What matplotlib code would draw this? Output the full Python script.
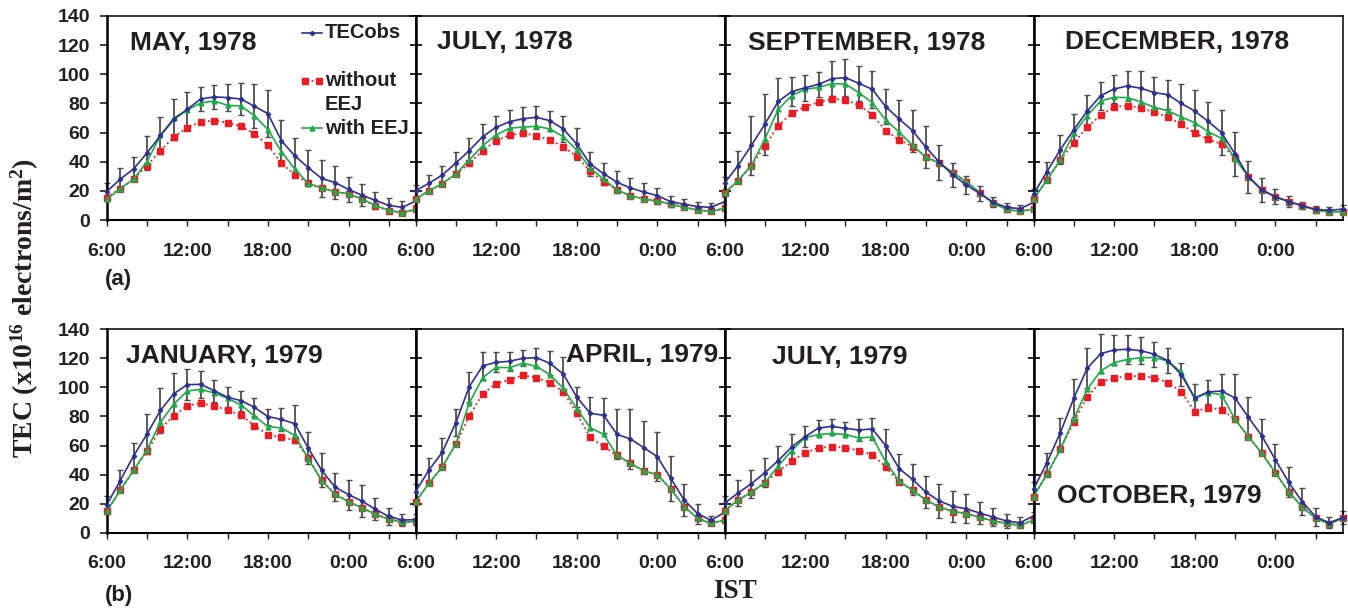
import matplotlib
matplotlib.use('Agg')
import matplotlib.pyplot as plt
from matplotlib.ticker import MultipleLocator, FixedLocator

# hourly points, index 0 = 6:00 IST ... index 23 = 5:00 IST
hours = list(range(24))
tick_pos = [0, 6, 12, 18]
tick_labels = ['6:00', '12:00', '18:00', '0:00']

# ---- (a) row ----
may78_obs = [19.4, 28, 35, 46, 58, 69, 76, 83, 84.5, 84, 83, 78, 73, 54.5, 44, 36, 28.5, 25.7, 21, 17, 13.5, 10, 8.7, 13]
may78_eej = [14.2, 21.5, 28, 40, 58, 70, 75.5, 80.3, 81.7, 78.7, 78.2, 71.6, 62, 47, 35, 25, 22, 19.4, 18, 14.4, 10, 6.6, 5, 7.3]
may78_noeej = [15.3, 21.5, 28, 37.3, 47.6, 57, 63.4, 67.3, 68.2, 66.8, 64.3, 59.3, 51.2, 38.9, 31.1, 25.2, 22.2, 19.2, 17.8, 14.2, 9.6, 6.4, 5, 7.3]
may78_err = [6, 7.5, 8, 11.5, 13, 14, 12, 8, 8, 9, 11, 15, 16, 14, 12, 12, 13, 11.5, 8.6, 7.6, 6, 5, 4, 3]

jul78_obs = [20.1, 25.2, 30.9, 39.1, 47.6, 57.2, 63.6, 67.5, 69.5, 70.5, 68.2, 62.5, 52.2, 38.4, 31.8, 25.9, 22, 19.2, 16.7, 12.6, 10.8, 9.2, 8.7, 12.6]
jul78_eej = [14.2, 20.1, 25, 31.6, 41.2, 51, 58.3, 63, 63.8, 64.3, 62.5, 57.2, 48, 35.5, 28.1, 20.6, 16.7, 14.4, 13, 11, 8.7, 6.9, 5.9, 8]
jul78_noeej = [14.2, 20.1, 25, 31.3, 38.9, 47.6, 54.5, 58.3, 59.5, 57.9, 54.9, 50.3, 43.7, 33.4, 26.3, 20.6, 16.7, 14.4, 13, 10.8, 8.7, 6.9, 5.9, 8]
jul78_err = [4, 6, 6, 7.5, 8.5, 8.5, 7.5, 8, 8, 8, 6.5, 9, 11, 8, 7.5, 7.5, 7, 6.4, 5.6, 4, 3.5, 3.2, 2.7, 3]

sep78_obs = [25.2, 37.3, 51.2, 65.7, 81.4, 88, 90.8, 93.1, 97, 97.7, 93.8, 89.7, 77.8, 69.3, 61.3, 49.9, 39.6, 30.9, 24, 18.3, 12.1, 8.7, 7.8, 12]
sep78_eej = [18.3, 27, 37.3, 55.4, 76, 85.3, 89.7, 91, 93.6, 93.3, 87.4, 80.5, 68.6, 60.4, 51.2, 43, 39.1, 32.5, 26.3, 18.8, 11.4, 7.3, 5.9, 7.5]
sep78_noeej = [18.3, 27, 37.3, 50.8, 64.7, 73.2, 77.8, 80.8, 83, 82.6, 78.7, 72.3, 61.3, 55.1, 50.3, 43.5, 39.1, 32, 26.3, 18.8, 11.4, 7.3, 5.9, 7.5]
sep78_err = [4, 10, 20, 21, 16, 10, 9, 8.4, 12, 12.5, 12, 12.5, 12, 13, 14.5, 14.3, 12, 8.4, 6.3, 5, 3.4, 3, 2.5, 3]

dec78_obs = [17.6, 33.2, 48.3, 62, 74.8, 85.3, 89.9, 92, 90.4, 87.4, 86, 80, 74.8, 67.7, 59.9, 45.3, 29.7, 20.6, 16, 12.6, 9.8, 7.3, 6.6, 7.5]
dec78_eej = [14.2, 27.5, 41.2, 59.5, 71.6, 81.7, 84.2, 84, 81, 77.3, 75, 70.7, 66.8, 60.6, 56, 42.1, 29.7, 20.6, 16, 12.6, 9.8, 6.9, 5.5, 5.7]
dec78_noeej = [14.2, 27.5, 41.2, 53.1, 63.6, 72, 77.6, 78.5, 76.9, 73.9, 70.7, 65.7, 59.5, 55.4, 52.2, 42.3, 29.7, 20.6, 16, 12.6, 9.8, 6.9, 5.5, 5.7]
dec78_err = [4, 6.3, 9.7, 10.5, 11, 9.7, 9.6, 10.4, 11.7, 10.8, 10, 13, 14.5, 13.6, 15.4, 14.8, 10.9, 8.5, 5.3, 3.9, 2.3, 2.2, 2.3, 3]

# ---- (b) row ----
jan79_obs = [19, 35.8, 52.8, 67.9, 84.2, 95.7, 101.9, 102.1, 97.8, 93.2, 90.9, 86.3, 79.9, 78, 75, 58.3, 42.9, 31.4, 26.2, 21.8, 16.1, 11.2, 8.7, 9]
jan79_eej = [14.7, 29.1, 42.9, 56.9, 76, 88.6, 97.5, 98.7, 96.2, 92.5, 87.9, 80.3, 73, 72.1, 67, 51, 35.8, 26.4, 21.3, 17.2, 12.6, 9.4, 7.1, 7.8]
jan79_noeej = [14.7, 29.1, 42.9, 56, 71.4, 80.6, 87.4, 89.3, 87, 84.7, 80.8, 73.7, 67.5, 65.6, 63.8, 51.6, 36, 26.9, 21.3, 17.2, 12.6, 9.4, 7.1, 7.8]
jan79_err = [6, 7.5, 8.6, 14, 15.5, 14.5, 10.8, 9.2, 7.5, 6.9, 6.8, 6.3, 5.5, 8, 13, 11, 11.7, 9.8, 10.3, 10.8, 7.7, 6, 4.2, 4]

apr79_obs = [28.2, 43.1, 55.5, 75.7, 100.5, 114.8, 117.3, 118, 120, 120.5, 116.6, 109.2, 93.4, 82.2, 80.8, 67.7, 64.5, 58.5, 52.3, 37.4, 22.5, 13.1, 8.5, 14]
apr79_eej = [21.1, 34, 45.4, 61, 89.3, 106.7, 113.8, 113.6, 116.6, 114.5, 108.8, 99.4, 85.4, 72.3, 67.7, 53.2, 47.7, 42.5, 39.9, 30.1, 17.9, 9.9, 6.4, 8.7]
apr79_noeej = [21.1, 34, 45.4, 61, 80.3, 95.5, 102.6, 105.3, 108.3, 106.7, 103.1, 97.1, 82.2, 65.6, 59.4, 53.2, 47.7, 42.5, 39.9, 30.1, 17.9, 9.9, 6.4, 8.7]
apr79_err = [5, 8, 9.4, 9.4, 10.3, 9.6, 6.8, 6.5, 5.5, 6.3, 8.3, 12, 7.1, 10.9, 12.2, 17.2, 20.7, 18.2, 16.9, 15.5, 10.8, 6.9, 2.9, 3]

jul79_obs = [20.2, 27.3, 33.7, 41.3, 49.6, 59, 66.1, 72.1, 73.2, 71.8, 70.7, 71.4, 59.9, 44.1, 36.7, 27.8, 21.8, 18.1, 16.5, 13.5, 10.8, 8, 6.9, 11.5]
jul79_eej = [14.9, 22.5, 27.8, 34.4, 45.9, 56.5, 65.6, 67.5, 68.4, 67.5, 65.2, 65.9, 48.7, 35.6, 29.1, 22.5, 17.7, 14.7, 13.1, 10.6, 8, 6.4, 5, 8.7]
jul79_noeej = [14.9, 22.5, 27.8, 34.4, 42, 49.3, 55.1, 58.3, 59.2, 58.5, 56.5, 53.7, 45.4, 35.1, 29.1, 22.5, 17.4, 14.5, 13.1, 10.6, 8, 6.4, 5, 8.7]
jul79_err = [5, 9, 9.8, 10, 9.8, 9, 7.1, 5.2, 5, 4.2, 7.7, 7.3, 11.8, 10.1, 10.6, 11.1, 12, 10.8, 10.1, 7.5, 6.3, 4.6, 3.7, 3]

oct79_obs = [30, 48.2, 68.9, 92.5, 113.2, 123.2, 125.8, 126.2, 125.3, 122.8, 118.4, 108.8, 92.7, 96.9, 97.5, 92.7, 79.4, 66.6, 50.3, 34.7, 21.3, 11, 6.9, 10.3]
oct79_eej = [24.8, 40.2, 57.4, 78.3, 98.7, 111.3, 117.1, 119.3, 120.5, 120.5, 118.2, 110.4, 92.5, 96.4, 95, 78, 66.1, 54.6, 41.3, 28, 17.7, 9.9, 6, 9.9]
oct79_noeej = [24.8, 40.2, 57.4, 76.4, 93.6, 103.7, 106.5, 107.9, 107.6, 106.7, 103.3, 97.1, 83.3, 86.1, 84.7, 78, 66.1, 54.6, 41.3, 28, 17.7, 9.9, 6, 9.9]
oct79_err = [5, 6.9, 10, 13, 13.7, 13.5, 10.6, 10, 9.5, 8.7, 8.8, 8, 9.4, 8, 11.7, 16.6, 14.3, 12, 10.9, 10.3, 9.2, 6.1, 3.7, 4.4]

panels = [
    ('MAY, 1978', may78_obs, may78_noeej, may78_eej, may78_err, (0.075, 0.835)),
    ('JULY, 1978', jul78_obs, jul78_noeej, jul78_eej, jul78_err, (0.069, 0.837)),
    ('SEPTEMBER, 1978', sep78_obs, sep78_noeej, sep78_eej, sep78_err, (0.075, 0.835)),
    ('DECEMBER, 1978', dec78_obs, dec78_noeej, dec78_eej, dec78_err, (0.102, 0.836)),
    ('JANUARY, 1979', jan79_obs, jan79_noeej, jan79_eej, jan79_err, (0.064, 0.832)),
    ('APRIL, 1979', apr79_obs, apr79_noeej, apr79_eej, apr79_err, (0.488, 0.837)),
    ('JULY, 1979', jul79_obs, jul79_noeej, jul79_eej, jul79_err, (0.153, 0.828)),
    ('OCTOBER, 1979', oct79_obs, oct79_noeej, oct79_eej, oct79_err, (0.075, 0.146)),
]

BLUE = '#2e3192'
GREEN = '#1faa4a'
RED = '#ed1c24'
INK = '#231f20'

plt.rcParams['font.family'] = ['Liberation Sans', 'DejaVu Sans']
plt.rcParams['font.weight'] = 'bold'
plt.rcParams['text.color'] = INK
# superscripts in the y label in the same bold serif face
plt.rcParams['mathtext.fontset'] = 'custom'
plt.rcParams['mathtext.rm'] = 'Liberation Serif:bold'
plt.rcParams['mathtext.it'] = 'Liberation Serif:bold'
plt.rcParams['mathtext.bf'] = 'Liberation Serif:bold'

W, H = 1348, 608
fig = plt.figure(figsize=(W / 100, H / 100), dpi=100)

lefts = [106.7, 415.5, 724.5, 1033.5]
pw = 309
rows = [(16, 220), (329.3, 532.7)]

axes = []
for k, (title, obs, noeej, eej, err, tpos) in enumerate(panels):
    r, c = divmod(k, 4)
    top, bot = rows[r]
    ax = fig.add_axes([lefts[c] / W, 1 - bot / H, pw / W, (bot - top) / H])
    axes.append(ax)

    ax.errorbar(hours, obs, yerr=err, fmt='none', ecolor='#4d4d4d', elinewidth=1.3,
                capsize=2, capthick=1, zorder=2, clip_on=False)
    ax.plot(hours, noeej, ls=':', lw=1.3, color=RED, marker='s', ms=3.8,
            mec=RED, mfc=RED, zorder=3, clip_on=False)
    ax.plot(hours, eej, ls='-', lw=1.2, color=GREEN, marker='^', ms=3.5,
            zorder=4, clip_on=False)
    ax.plot(hours, obs, ls='-', lw=1.2, color=BLUE, marker='D', ms=2.2,
            zorder=5, clip_on=False)

    ax.set_xlim(0, 23)
    ax.set_ylim(0, 140)
    ax.xaxis.set_major_locator(FixedLocator(tick_pos))
    ax.set_xticklabels(tick_labels)
    ax.xaxis.set_minor_locator(MultipleLocator(3))
    ax.yaxis.set_major_locator(MultipleLocator(20))
    ax.tick_params(axis='x', which='both', direction='out', length=4.3, width=1,
                   pad=12, labelsize=14, colors=INK)
    if c == 0:
        ax.tick_params(axis='y', direction='out', length=4.8, width=1.2, pad=7,
                       labelsize=14, colors=INK)
    else:
        ax.tick_params(axis='y', direction='inout', length=8, width=1.2,
                       labelleft=False)
    for sp in ax.spines.values():
        sp.set_color('black')
        sp.set_linewidth(1.1)
    ax.spines['left'].set_linewidth(1.8)
    ax.spines['bottom'].set_linewidth(1.5)

    ax.text(tpos[0], tpos[1], title, transform=ax.transAxes, fontsize=19,
            fontweight='bold', ha='left', va='baseline', color=INK)

# legend inside the first panel
ax = axes[0]
lx = [0.632, 0.697]
ax.plot(lx, [0.917, 0.917], transform=ax.transAxes, color=BLUE, lw=1.2, clip_on=False)
ax.plot([0.665], [0.917], transform=ax.transAxes, color=BLUE, marker='D', ms=2.2, clip_on=False)
ax.plot(lx, [0.683, 0.683], transform=ax.transAxes, color=RED, lw=1.3, ls=':', clip_on=False)
ax.plot([0.643, 0.686], [0.683, 0.683], transform=ax.transAxes, color=RED, marker='s', ms=3.8,
        ls='none', clip_on=False)
ax.plot(lx, [0.449, 0.449], transform=ax.transAxes, color=GREEN, lw=1.2, clip_on=False)
ax.plot([0.665], [0.449], transform=ax.transAxes, color=GREEN, marker='^', ms=3.5, clip_on=False)
for txt, yy in [('TECobs', 0.917), ('without', 0.683), ('EEJ', 0.564), ('with EEJ', 0.449)]:
    ax.text(0.706, yy, txt, transform=ax.transAxes, fontsize=14.5, fontweight='bold',
            ha='left', va='center', color=INK)

fig.text(105 / W, 1 - 280 / H, '(a)', fontsize=16, fontweight='bold', ha='left', va='center')
fig.text(105 / W, 1 - 595 / H, '(b)', fontsize=16, fontweight='bold', ha='left', va='center')

fig.text(25 / W, 0.493, r'TEC (x10$^{16}$ electrons/m$^{2}$)', rotation=90,
         family='Liberation Serif', fontsize=20, fontweight='bold', ha='center', va='center')
fig.text(735 / W, 1 - 591 / H, 'IST', family='Liberation Serif', fontsize=19.5,
         fontweight='bold', ha='center', va='center')

fig.savefig('out.png', dpi=100)
